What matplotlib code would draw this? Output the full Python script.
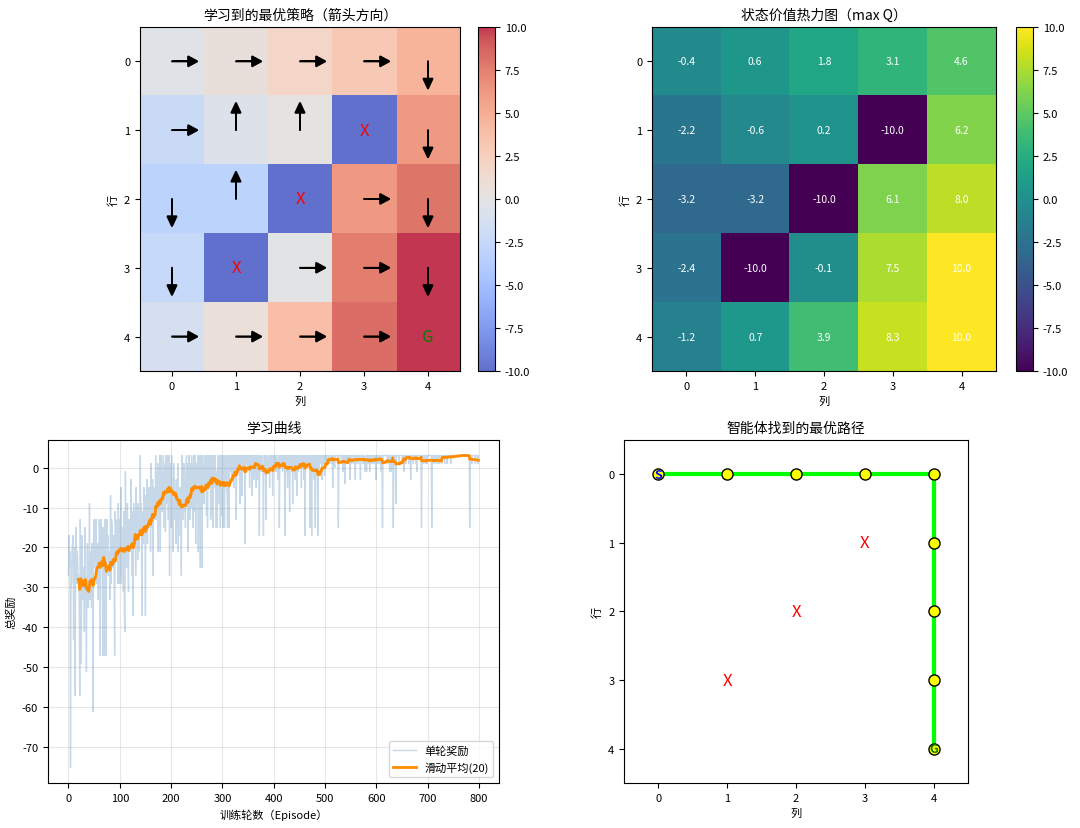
import numpy as np
import matplotlib
matplotlib.use('Agg')
import matplotlib.pyplot as plt

plt.rcParams['font.family'] = ['Noto Sans CJK SC', 'DejaVu Sans']
plt.rcParams['axes.unicode_minus'] = False

# Grid world results
cols = [0, 1, 2, 3, 4]
rows = [0, 1, 2, 3, 4]
max_q = [
    [-0.4, 0.6, 1.8, 3.1, 4.6],
    [-2.2, -0.6, 0.2, -10.0, 6.2],
    [-3.2, -3.2, -10.0, 6.1, 8.0],
    [-2.4, -10.0, -0.1, 7.5, 10.0],
    [-1.2, 0.7, 3.9, 8.3, 10.0],
]
policy = [
    ['R', 'R', 'R', 'R', 'D'],
    ['R', 'U', 'U', 'X', 'D'],
    ['D', 'U', 'X', 'R', 'D'],
    ['D', 'X', 'R', 'R', 'D'],
    ['R', 'R', 'R', 'R', 'G'],
]
traps = [(1, 3), (2, 2), (3, 1)]
path = [(0, 0), (0, 1), (0, 2), (0, 3), (0, 4), (1, 4), (2, 4), (3, 4), (4, 4)]

# reward of every episode
rewards = [
    -27, -17, -25, -21, -75, -30, -29, -20, -19, -17,
    -43, -24, -20, -57, -19, -15, -29, -21, -23, -29,
    -27, -35, -57, -13, -29, -49, -17, -23, -33, -27,
    -25, -41, -15, -33, -29, -51, -27, -19, -35, -35,
    -25, -9, -33, -27, -21, -35, -19, -23, -61, -17,
    -13, -25, -17, -23, -13, -29, -21, -19, -33, -27,
    -13, -17, -47, -19, -13, -23, -15, -47, -21, -15,
    -47, -13, -25, -47, -29, -13, -19, -17, -27, -23,
    -21, -33, -7, -29, -13, -15, -25, -23, -17, -27,
    -47, -11, -15, -19, -21, -13, -29, -9, -17, -29,
    -13, -27, -5, -29, -19, -23, -15, -31, -11, -37,
    -41, -1, -17, -25, -13, -9, -23, -31, -13, -17,
    -15, -21, -3, -19, -27, -11, -37, -9, -17, -16,
    -11, -27, -5, -19, -13, -23, -9, -21, -17, -15,
    3, -17, -9, -37, -13, -11, -19, -5, -15, -12,
    -37, -7, -13, -3, -19, -9, -11, -5, -15, -6,
    -21, 1, -9, -15, -3, -27, -5, -13, -7, -11,
    3, -13, -1, -9, 1, -21, -5, -7, 3, -21,
    -3, 3, -11, -1, -9, 3, -15, -7, 1, -16,
    3, -9, -1, 3, -13, -5, 3, -27, 1, -5,
    -15, 3, -11, -5, -21, 1, -9, -3, -13, -7,
    -19, -3, -15, 1, -21, -7, -11, -5, -17, -8,
    -27, 3, -9, -5, -13, 1, -11, -3, -15, -1,
    3, -9, 1, -21, -3, 3, -7, -13, 1, -10,
    3, -5, 1, -15, 3, -1, -11, 3, -19, -4,
    1, -9, 3, -21, -1, 3, -7, -25, 3, 3,
    -25, 3, -3, 1, -9, 3, -5, -1, 3, -12,
    3, -15, 1, 3, -5, -1, 3, -13, 1, -12,
    3, -1, -15, 3, 1, -5, 3, -3, -15, -1,
    -15, 3, -3, 1, -9, 3, -15, -1, 3, -12,
    3, -15, -1, 3, -15, 1, -3, 3, -5, -6,
    -15, 3, 1, -15, 3, 3, -1, 3, 1, -3,
    3, 1, -5, 3, 3, -1, 3, -13, 3, -2,
    3, 3, -1, 3, -9, 3, 1, 3, -7, 1,
    3, -1, 3, 3, -19, 3, 1, 3, 1, 0,
    3, 1, 3, -5, 3, 3, -1, 3, -7, 2,
    3, 3, -3, 3, 1, 3, -5, 3, 3, -3,
    3, 1, -17, 3, 3, -1, 3, 3, -1, 0,
    -17, 3, 3, -1, 3, -13, 3, 1, -1, 1,
    3, 3, -5, 3, 1, 3, -1, 3, -7, 2,
    3, 3, 1, 3, -1, 3, 3, 1, -3, 2,
    3, -15, 3, 3, 1, 3, 3, -1, 3, 2,
    3, 1, -17, 3, 3, -1, 3, -5, 3, -1,
    3, -11, 3, 1, 3, -1, 3, -9, 3, 0,
    3, 3, -3, 3, 1, -7, 3, 3, -1, 0,
    3, 3, 1, 3, -5, 3, 3, 1, 3, -3,
    3, -17, 3, 3, 3, 1, 3, 3, 1, 2,
    3, -15, 3, 1, -17, 3, 3, -1, 3, -3,
    3, -15, 3, 3, -1, 3, -17, 3, 3, 0,
    3, 3, 1, 3, -3, 3, 3, 1, 3, -2,
    3, 3, 3, 1, 3, 3, 3, 3, 1, 2,
    3, 3, 1, 3, 3, -5, 3, 3, 1, 0,
    3, 3, 3, 3, 3, 3, -15, 3, 3, 3,
    3, 3, 1, 3, 3, -1, 3, 1, 3, -4,
    3, 3, 3, 1, 3, 3, 1, 3, 3, -3,
    3, 3, 1, 3, 3, 3, 3, 1, 3, -3,
    3, 1, 3, 3, 3, 1, 3, 3, 3, -3,
    3, 3, 3, 3, 1, 3, 3, 1, -1, 1,
    3, -1, 3, 3, 1, 3, 3, -1, 3, 1,
    3, 3, 1, 3, 3, 3, 1, 3, 3, -3,
    3, 1, 3, 3, 3, 1, 3, 3, 1, -1,
    3, 3, -15, 3, 3, 3, 3, 3, 3, 3,
    3, 3, 1, 3, 3, 3, -1, 3, 1, -1,
    3, 3, 3, -15, 3, 3, 3, 3, -9, 3,
    3, 3, 3, 3, 1, 3, 3, 3, 3, 3,
    3, 1, 3, 3, -1, 3, 3, 3, 1, 3,
    3, 3, 3, 1, 3, 3, 3, -3, 3, 3,
    3, 3, 1, 3, 3, 3, 3, 1, 3, -1,
    3, 3, 3, 3, 3, 3, 3, 3, -15, 3,
    3, 3, 1, 3, 3, 3, 1, 3, 3, 1,
    3, 3, 3, 3, 3, 3, 3, 3, -15, 3,
    3, 1, 3, 3, 3, 1, 3, 3, 3, 1,
    3, 3, 1, 3, 3, 3, 3, 1, 3, 3,
    3, 3, 3, 1, 3, 3, 3, 3, 1, 3,
    3, 3, 3, 3, 3, 1, 3, 3, 3, 3,
    3, 3, 3, 3, 3, 3, 3, 3, 3, 3,
    3, 3, 3, 3, 3, 3, 3, 3, 3, 3,
    3, 3, 3, 3, 3, 3, 3, 3, 3, 3,
    3, 3, -15, 3, 3, 3, 1, 3, 3, 3,
    3, 3, 3, 1, 3, 3, 3, 3, 1, 3,
]
window = 20

arrow_dir = {'R': (0.25, 0), 'L': (-0.25, 0), 'U': (0, -0.25), 'D': (0, 0.25)}

fig = plt.figure(figsize=(10.8, 8.29), dpi=100)
title_fs = 10
label_fs = 8

# 1. policy
ax1 = fig.add_axes([0.1296, 0.5513, 0.2963, 0.415])
cax1 = fig.add_axes([0.4426, 0.5513, 0.0157, 0.415])
im1 = ax1.imshow(max_q, cmap='coolwarm', vmin=-10, vmax=10, alpha=0.8, aspect='auto')
for i in range(len(rows)):
    for j in range(len(cols)):
        a = policy[i][j]
        if a == 'X':
            ax1.text(j, i, 'X', ha='center', va='center', color='red', fontsize=12)
        elif a == 'G':
            ax1.text(j, i, 'G', ha='center', va='center', color='green', fontsize=12)
        else:
            dx, dy = arrow_dir[a]
            ax1.arrow(j, i, dx, dy, head_width=0.15, head_length=0.15,
                      fc='black', ec='black', lw=1.2)
ax1.set_xticks(cols)
ax1.set_yticks(rows)
ax1.set_title('学习到的最优策略（箭头方向）', fontsize=title_fs)
ax1.set_xlabel('列', fontsize=label_fs)
ax1.set_ylabel('行', fontsize=label_fs)
ax1.tick_params(labelsize=label_fs)
cb1 = fig.colorbar(im1, cax=cax1)
cb1.ax.tick_params(labelsize=label_fs)

# 2. value heatmap
ax2 = fig.add_axes([0.6037, 0.5513, 0.3185, 0.415])
cax2 = fig.add_axes([0.9407, 0.5513, 0.0157, 0.415])
im2 = ax2.imshow(max_q, cmap='viridis', vmin=-10, vmax=10, aspect='auto')
for i in range(len(rows)):
    for j in range(len(cols)):
        ax2.text(j, i, f'{max_q[i][j]:.1f}', ha='center', va='center',
                 color='white', fontsize=7.5)
ax2.set_xticks(cols)
ax2.set_yticks(rows)
ax2.set_title('状态价值热力图（max Q）', fontsize=title_fs)
ax2.set_xlabel('列', fontsize=label_fs)
ax2.set_ylabel('行', fontsize=label_fs)
ax2.tick_params(labelsize=label_fs)
cb2 = fig.colorbar(im2, cax=cax2)
cb2.ax.tick_params(labelsize=label_fs)

# 3. learning curve
ax3 = fig.add_axes([0.0444, 0.0543, 0.4176, 0.4138])
r = np.array(rewards, dtype=float)
ma = np.convolve(r, np.ones(window) / window, mode='valid')
ax3.plot(np.arange(len(r)), r, color='steelblue', alpha=0.3, lw=1, label='单轮奖励')
ax3.plot(np.arange(window - 1, len(r)), ma, color='darkorange', lw=2,
         label=f'滑动平均({window})')
ax3.set_title('学习曲线', fontsize=title_fs)
ax3.set_xlabel('训练轮数（Episode）', fontsize=label_fs)
ax3.set_ylabel('总奖励', fontsize=label_fs)
ax3.tick_params(labelsize=label_fs)
ax3.grid(True, alpha=0.3)
ax3.legend(loc='lower right', fontsize=label_fs)

# 4. optimal path
ax4 = fig.add_axes([0.5778, 0.0543, 0.3185, 0.4138])
py = [p[0] for p in path]
px = [p[1] for p in path]
ax4.plot(px, py, color='lime', lw=3, zorder=1)
ax4.plot(px, py, 'o', color='yellow', mec='black', ms=8, zorder=2)
for (ti, tj) in traps:
    ax4.text(tj, ti, 'X', ha='center', va='center', color='red', fontsize=12)
ax4.text(px[0], py[0], 'S', ha='center', va='center', color='blue',
         fontsize=9, fontweight='bold', zorder=3)
ax4.text(px[-1], py[-1], 'G', ha='center', va='center', color='green',
         fontsize=9, fontweight='bold', zorder=3)
ax4.set_xlim(-0.5, 4.5)
ax4.set_ylim(4.5, -0.5)
ax4.set_xticks(cols)
ax4.set_yticks(rows)
ax4.set_title('智能体找到的最优路径', fontsize=title_fs)
ax4.set_xlabel('列', fontsize=label_fs)
ax4.set_ylabel('行', fontsize=label_fs)
ax4.tick_params(labelsize=label_fs)

fig.savefig('out.png', dpi=100)
